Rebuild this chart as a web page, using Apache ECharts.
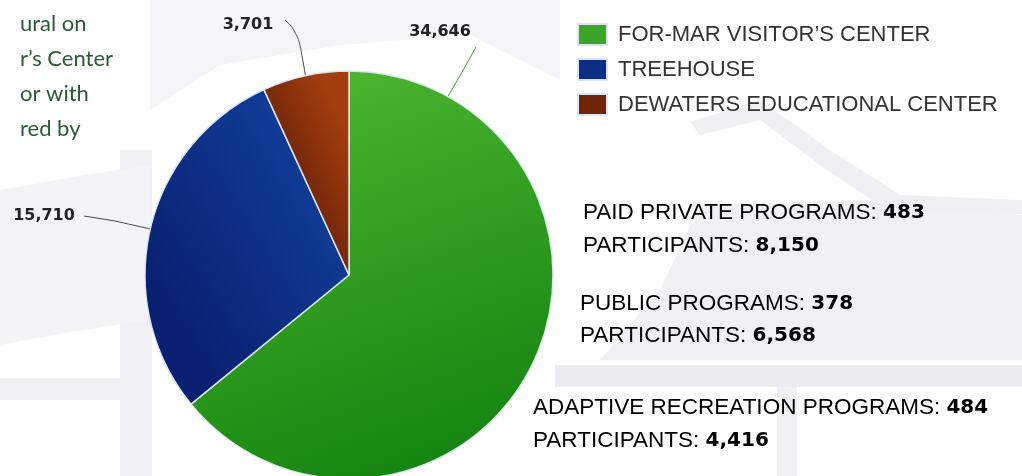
<!DOCTYPE html>
<html>
<head>
<meta charset="utf-8">
<script src="https://cdn.jsdelivr.net/npm/echarts@6/dist/echarts.min.js"></script>
<style>
  html, body { margin: 0; padding: 0; background: #ffffff; }
  #chart { width: 1022px; height: 476px; }
</style>
</head>
<body>
<div id="chart"></div>
<script>
// ---------- data ----------
const categories = ['FOR-MAR VISITOR\u2019S CENTER', 'TREEHOUSE', 'DEWATERS EDUCATIONAL CENTER'];
const visitors = [34646, 15710, 3701];
const programNames = ['PAID PRIVATE PROGRAMS', 'PUBLIC PROGRAMS', 'ADAPTIVE RECREATION PROGRAMS'];
const programCounts = [483, 378, 484];
const participantCounts = [8150, 6568, 4416];
const introLines = ['ural on', 'r\u2019s Center', 'or with', 'red by'];

// ---------- style / layout ----------
const PIE_CX = 349, PIE_CY = 275, PIE_R = 204;
const sliceColors = [
  { type: 'linear', x: 0.2, y: 0, x2: 0.6, y2: 1, colorStops: [
    { offset: 0, color: '#4fb733' }, { offset: 0.45, color: '#33a022' }, { offset: 1, color: '#158410' } ] },
  { type: 'linear', x: 1, y: 0.2, x2: 0, y2: 0.6, colorStops: [
    { offset: 0, color: '#11429f' }, { offset: 1, color: '#0a2070' } ] },
  { type: 'linear', x: 1, y: 0.3, x2: 0, y2: 0.5, colorStops: [
    { offset: 0, color: '#a43e0e' }, { offset: 1, color: '#5e1d08' } ] }
];
const legendColors = ['#3aa526', '#0c2f86', '#6e2508'];
// label boxes (center) and line styling per slice
const labelPos = [
  { x: 440, y: 32, edgeAngle: 29, bend: [462, 72], end: [476, 47], lineColor: '#4f9a45' },
  { x: 44, y: 216, bend: [115, 221], end: [84, 216], lineColor: '#4a4a4a' },
  { x: 248, y: 25, bend: [298, 32], end: [285, 20], lineColor: '#4a4a4a', smooth: 0.5 }
];
const programPos = [
  { x: 583, y1: 213, y2: 246 },
  { x: 580, y1: 304, y2: 336 },
  { x: 533, y1: 408, y2: 441 }
];

const fmt = v => v.toLocaleString('en-US');
const total = visitors.reduce((a, b) => a + b, 0);
const midAngles = [];
{
  let acc = 0;
  visitors.forEach(v => { midAngles.push((acc + v / 2) / total * 360); acc += v; });
}
function edgePoint(angleDeg) {
  const a = angleDeg * Math.PI / 180;
  return [PIE_CX + PIE_R * Math.sin(a), PIE_CY - PIE_R * Math.cos(a)];
}

const chart = echarts.init(document.getElementById('chart'), null, { renderer: 'canvas' });

const BG = '#f1f1f4';
const graphics = [
  // faint background shapes
  { type: 'rect', z: -10, shape: { x: 120, y: 150, width: 32, height: 326 }, style: { fill: BG } },
  { type: 'rect', z: -10, shape: { x: 0, y: 378, width: 122, height: 22 }, style: { fill: BG } },
  { type: 'polygon', z: -10, shape: { points: [[0, 190], [80, 176], [150, 165], [150, 320], [70, 332], [0, 345]] }, style: { fill: '#f4f4f6' } },
  { type: 'polygon', z: -10, shape: { points: [[700, 205], [860, 200], [1022, 215], [1022, 360], [600, 360], [660, 290]] }, style: { fill: BG } },
  { type: 'polygon', z: -10, shape: { points: [[690, 122], [760, 100], [830, 150], [900, 195], [1022, 200], [1022, 214], [890, 212], [820, 165], [760, 120], [700, 135]] }, style: { fill: '#f0f0f3' } },
  { type: 'rect', z: -10, shape: { x: 555, y: 365, width: 467, height: 22 }, style: { fill: '#ececf0' } },
  { type: 'rect', z: -10, shape: { x: 777, y: 387, width: 20, height: 89 }, style: { fill: BG } },
  { type: 'polygon', z: -10, shape: { points: [[150, 0], [560, 0], [560, 80], [470, 35], [340, 45], [220, 65], [150, 110]] }, style: { fill: '#f5f5f7' } }
];

introLines.forEach((t, i) => {
  graphics.push({
    type: 'text', left: 20, top: 13 + i * 35,
    style: { text: t, fill: '#2b5a35', font: '22px Lato, "Open Sans", sans-serif' }
  });
});

programNames.forEach((name, i) => {
  const p = programPos[i];
  const lines = [
    { y: p.y1, a: name + ': ', b: fmt(programCounts[i]) },
    { y: p.y2, a: 'PARTICIPANTS: ', b: fmt(participantCounts[i]) }
  ];
  lines.forEach(l => {
    graphics.push({
      type: 'text', x: p.x, y: l.y,
      style: {
        text: '{r|' + l.a + '}{b|' + l.b + '}',
        verticalAlign: 'middle', align: 'left',
        rich: {
          r: { fontFamily: '"Liberation Sans", Arial, sans-serif', fontSize: 22.5, color: '#333333' },
          b: { fontFamily: '"DejaVu Sans", sans-serif', fontWeight: 'bold', fontSize: 20, color: '#222222' }
        }
      }
    });
  });
});

const option = {
  backgroundColor: '#ffffff',
  animation: false,
  legend: {
    orient: 'vertical',
    left: 572, top: 18,
    itemWidth: 29, itemHeight: 21, itemGap: 12,
    icon: 'rect',
    data: categories.map((c, i) => ({ name: c, itemStyle: { color: legendColors[i] } })),
    textStyle: { fontFamily: '"Liberation Sans", Arial, sans-serif', fontSize: 22, color: '#333333', padding: [0, 0, 0, 6] }
  },
  graphic: graphics,
  series: [{
    type: 'pie',
    center: [PIE_CX, PIE_CY],
    radius: PIE_R,
    startAngle: 90,
    clockwise: true,
    avoidLabelOverlap: false,
    itemStyle: { borderColor: '#dde6ee', borderWidth: 1.5 },
    emphasis: { disabled: true },
    label: {
      show: true, position: 'outside',
      formatter: p => fmt(p.value),
      fontFamily: '"DejaVu Sans", sans-serif', fontWeight: 'bold', fontSize: 16, color: '#222222'
    },
    labelLine: { show: true, length: 10, length2: 10, lineStyle: { width: 1 } },
    labelLayout: params => {
      const i = params.dataIndex;
      const lp = labelPos[i];
      const ang = lp.edgeAngle !== undefined ? lp.edgeAngle : midAngles[i];
      return {
        x: lp.x, y: lp.y, align: 'center', verticalAlign: 'middle',
        labelLinePoints: [edgePoint(ang), lp.bend, lp.end]
      };
    },
    data: categories.map((c, i) => ({
      name: c, value: visitors[i],
      itemStyle: { color: sliceColors[i] },
      labelLine: { smooth: labelPos[i].smooth || false, lineStyle: { color: labelPos[i].lineColor, width: 1 } }
    }))
  }]
};
chart.setOption(option);
</script>
</body>
</html>
